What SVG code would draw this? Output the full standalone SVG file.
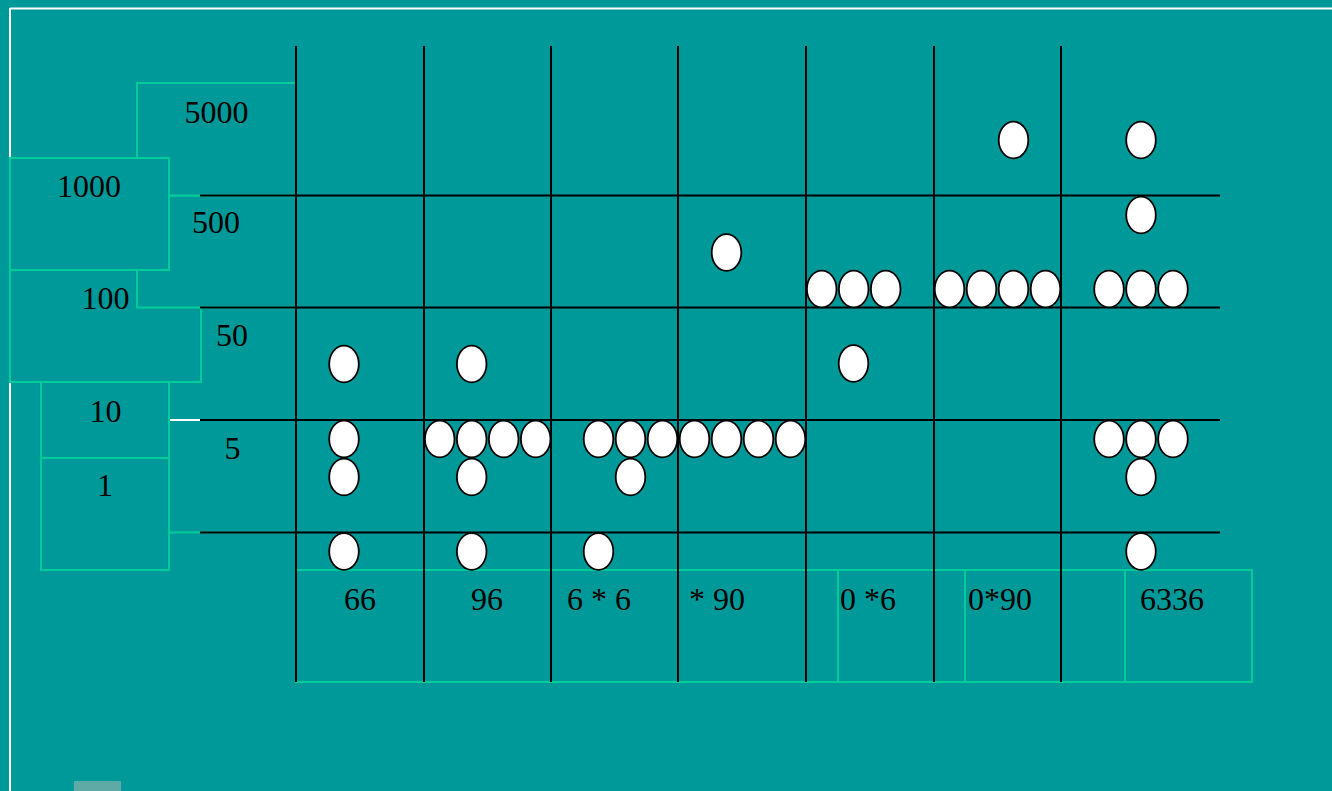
<svg xmlns="http://www.w3.org/2000/svg" width="1332" height="791" viewBox="0 0 1332 791">
<style>
.bx{fill:#009999;stroke:#00cc99;stroke-width:2}
.g{stroke:#000;stroke-width:2;fill:none}
.c{fill:#fff;stroke:#000;stroke-width:1.8}
.t{font-family:"Liberation Serif","Times New Roman",serif;font-size:32px;fill:#000;text-anchor:middle}
</style>
<rect x="0" y="0" width="1332" height="791" fill="#009999"/>
<g id="frame" stroke="#fff" stroke-width="2" fill="none">
<line x1="10" y1="8.5" x2="1332" y2="8.5"/>
<line x1="10" y1="8" x2="10" y2="791"/>
</g>
<rect x="74" y="781" width="47" height="10" fill="#5fa9a6"/>
<g id="scale-boxes">
<g id="box-50"><rect class="bx" x="137" y="307.5" width="159" height="112.5"/></g>
<g id="box-5"><rect class="bx" x="137" y="420" width="159" height="112.5"/></g>
<g id="box-100"><rect class="bx" x="10" y="270" width="191" height="112"/></g>
<g id="box-500"><rect class="bx" x="137" y="195.5" width="159" height="112"/></g>
<g id="box-5000"><rect class="bx" x="137" y="83" width="159" height="112.5"/></g>
<g id="box-1000"><rect class="bx" x="10" y="158" width="159" height="112"/></g>
<g id="box-10"><rect class="bx" x="41" y="382" width="128" height="76"/></g>
<g id="box-1"><rect class="bx" x="41" y="458" width="128" height="112"/></g>
<line x1="170" y1="420" x2="200" y2="420" stroke="#fff" stroke-width="2"/>
</g>
<g id="result-boxes">
<g id="box-a"><rect class="bx" x="296" y="570" width="542" height="112"/></g>
<g id="box-b"><rect class="bx" x="838" y="570" width="127" height="112"/></g>
<g id="box-c"><rect class="bx" x="965" y="570" width="160" height="112"/></g>
<g id="box-d"><rect class="bx" x="1125" y="570" width="127" height="112"/></g>
</g>
<g id="connectors" class="g">
<line x1="200" y1="195.5" x2="1220" y2="195.5"/>
<line x1="200" y1="307.5" x2="1220" y2="307.5"/>
<line x1="200" y1="420" x2="1220" y2="420"/>
<line x1="200" y1="532.5" x2="1220" y2="532.5"/>
<line x1="296" y1="46" x2="296" y2="682"/>
<line x1="424" y1="46" x2="424" y2="682"/>
<line x1="551" y1="46" x2="551" y2="682"/>
<line x1="678" y1="46" x2="678" y2="682"/>
<line x1="806" y1="46" x2="806" y2="682"/>
<line x1="934" y1="46" x2="934" y2="682"/>
<line x1="1061" y1="46" x2="1061" y2="682"/>
</g>
<g id="col1-beads">
<ellipse class="c" cx="344" cy="364" rx="14.8" ry="18.4"/>
<ellipse class="c" cx="344" cy="439" rx="14.8" ry="18.4"/>
<ellipse class="c" cx="344" cy="477" rx="14.8" ry="18.4"/>
<ellipse class="c" cx="344" cy="551.5" rx="14.8" ry="18.4"/>
</g>
<g id="col2-beads">
<ellipse class="c" cx="471.7" cy="364" rx="14.8" ry="18.4"/>
<ellipse class="c" cx="471.7" cy="477" rx="14.8" ry="18.4"/>
<ellipse class="c" cx="439.7" cy="439" rx="14.8" ry="18.4"/>
<ellipse class="c" cx="471.7" cy="439" rx="14.8" ry="18.4"/>
<ellipse class="c" cx="503.7" cy="439" rx="14.8" ry="18.4"/>
<ellipse class="c" cx="535.7" cy="439" rx="14.8" ry="18.4"/>
<ellipse class="c" cx="471.7" cy="551.5" rx="14.8" ry="18.4"/>
</g>
<g id="col3-beads">
<ellipse class="c" cx="630.5" cy="477" rx="14.8" ry="18.4"/>
<ellipse class="c" cx="598.5" cy="439" rx="14.8" ry="18.4"/>
<ellipse class="c" cx="630.5" cy="439" rx="14.8" ry="18.4"/>
<ellipse class="c" cx="662.5" cy="439" rx="14.8" ry="18.4"/>
<ellipse class="c" cx="598.5" cy="551.5" rx="14.8" ry="18.4"/>
</g>
<g id="col4-beads">
<ellipse class="c" cx="726.5" cy="252.5" rx="14.8" ry="18.4"/>
<ellipse class="c" cx="694.5" cy="439" rx="14.8" ry="18.4"/>
<ellipse class="c" cx="726.5" cy="439" rx="14.8" ry="18.4"/>
<ellipse class="c" cx="758.5" cy="439" rx="14.8" ry="18.4"/>
<ellipse class="c" cx="790.5" cy="439" rx="14.8" ry="18.4"/>
</g>
<g id="col5-beads">
<ellipse class="c" cx="821.7" cy="289" rx="14.8" ry="18.4"/>
<ellipse class="c" cx="853.7" cy="289" rx="14.8" ry="18.4"/>
<ellipse class="c" cx="885.7" cy="289" rx="14.8" ry="18.4"/>
<ellipse class="c" cx="853.5" cy="363.5" rx="14.8" ry="18.4"/>
</g>
<g id="col6-beads">
<ellipse class="c" cx="1013.5" cy="140" rx="14.8" ry="18.4"/>
<ellipse class="c" cx="949.5" cy="289" rx="14.8" ry="18.4"/>
<ellipse class="c" cx="981.5" cy="289" rx="14.8" ry="18.4"/>
<ellipse class="c" cx="1013.5" cy="289" rx="14.8" ry="18.4"/>
<ellipse class="c" cx="1045.5" cy="289" rx="14.8" ry="18.4"/>
</g>
<g id="col7-beads">
<ellipse class="c" cx="1141" cy="140" rx="14.8" ry="18.4"/>
<ellipse class="c" cx="1141" cy="215" rx="14.8" ry="18.4"/>
<ellipse class="c" cx="1109" cy="289" rx="14.8" ry="18.4"/>
<ellipse class="c" cx="1141" cy="289" rx="14.8" ry="18.4"/>
<ellipse class="c" cx="1173" cy="289" rx="14.8" ry="18.4"/>
<ellipse class="c" cx="1109" cy="439" rx="14.8" ry="18.4"/>
<ellipse class="c" cx="1141" cy="439" rx="14.8" ry="18.4"/>
<ellipse class="c" cx="1173" cy="439" rx="14.8" ry="18.4"/>
<ellipse class="c" cx="1141" cy="477" rx="14.8" ry="18.4"/>
<ellipse class="c" cx="1141" cy="551.5" rx="14.8" ry="18.4"/>
</g>
<g id="labels">
<text class="t" x="216.5" y="123">5000</text>
<text class="t" x="89" y="197">1000</text>
<text class="t" x="216" y="233">500</text>
<text class="t" x="105.5" y="309">100</text>
<text class="t" x="232" y="346">50</text>
<text class="t" x="105.5" y="422">10</text>
<text class="t" x="232.5" y="459">5</text>
<text class="t" x="105" y="496">1</text>
<text class="t" x="360" y="610">66</text>
<text class="t" x="487" y="610">96</text>
<text class="t" x="599" y="610">6 * 6</text>
<text class="t" x="717" y="610">* 90</text>
<text class="t" x="868" y="610">0 *6</text>
<text class="t" x="1000" y="610">0*90</text>
<text class="t" x="1172" y="610">6336</text>
</g>
</svg>
